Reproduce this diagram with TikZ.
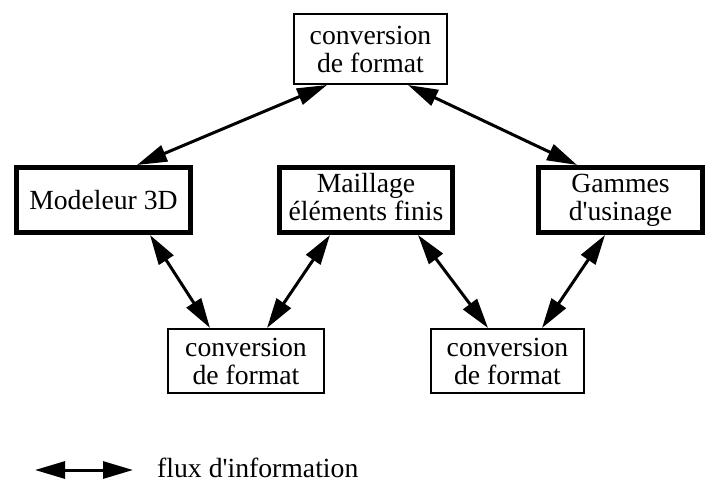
\documentclass[tikz,border=0pt]{standalone}
\usepackage{fontspec}
\setmainfont{Liberation Serif}
\usetikzlibrary{arrows.meta}
\begin{document}
\begin{tikzpicture}[x=1pt,y=-1pt,
 convbox/.style={draw,line width=2pt,align=center,inner sep=0pt,font=\fontsize{27.7}{28}\selectfont},
 outilbox/.style={draw,line width=5pt,align=center,inner sep=0pt,font=\fontsize{27.7}{28}\selectfont},
 flux/.style={line width=3pt,{Triangle[length=30pt,width=17pt]}-{Triangle[length=30pt,width=17pt]}}]
 \useasboundingbox (0,0) rectangle (706,484);
 \node[convbox,minimum width=153pt,minimum height=70pt](top) at (370.5,49) {conversion\\de format};
 \node[outilbox,minimum width=174pt,minimum height=65pt](model) at (103.5,200) {Modeleur 3D};
 \node[outilbox,minimum width=173pt,minimum height=65pt,text depth=6pt](mesh) at (366,200) {Maillage\\\'el\'ements finis};
 \node[outilbox,minimum width=164pt,minimum height=65pt,text depth=6pt](gam) at (620.5,200) {Gammes\\d\textquotesingle usinage};
 \node[convbox,minimum width=156pt,minimum height=64pt](convA) at (246,361) {conversion\\de format};
 \node[convbox,minimum width=153pt,minimum height=64pt](convB) at (507.5,361) {conversion\\de format};
 \draw[flux]([xshift=-43.5pt]top.south)--([xshift=33.5pt]model.north);
 \draw[flux]([xshift=37.5pt]top.south)--([xshift=-43.5pt]gam.north);
 \draw[flux]([xshift=46.5pt]model.south)--([xshift=-36pt]convA.north);
 \draw[flux]([xshift=-36pt]mesh.south)--([xshift=21pt]convA.north);
 \draw[flux]([xshift=52pt]mesh.south)--([xshift=-19.5pt]convB.north);
 \draw[flux]([xshift=-15.5pt]gam.south)--([xshift=34.5pt]convB.north);
 % legende
 \coordinate (la) at (35,470);
 \coordinate (lb) at (133,470);
 \draw[flux](la)--(lb);
 \node[anchor=base west,inner sep=0pt,font=\fontsize{27.7}{28}\selectfont](leg) at (157,477) {flux d\textquotesingle information};
\end{tikzpicture}
\end{document}
